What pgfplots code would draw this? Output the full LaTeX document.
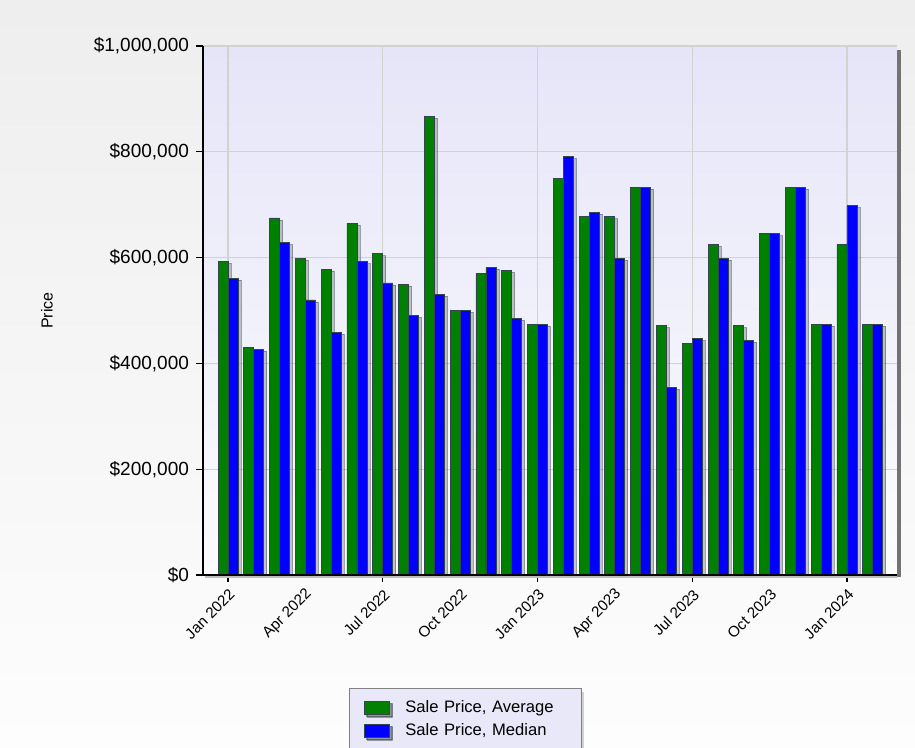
\documentclass[border=0pt]{standalone}
\usepackage{pgfplots}
\pgfplotsset{compat=1.18}
\usepackage{fontspec}
\setmainfont{Liberation Sans}
\usetikzlibrary{shadows}

\definecolor{avggreen}{RGB}{0,128,0}
\definecolor{medblue}{RGB}{0,0,255}
\definecolor{baredge}{RGB}{50,70,75}
\definecolor{plottop}{RGB}{229,229,248}
\definecolor{plotbot}{RGB}{252,252,255}
\definecolor{pagetop}{RGB}{238,238,238}
\definecolor{pagebot}{RGB}{253,253,253}
\definecolor{gridgray}{RGB}{210,210,210}
\definecolor{legfill}{RGB}{232,232,248}

% monthly sale prices, Jan 2022 = 0 ... Feb 2024 = 25
\pgfplotstableread{
idx avg    med
0   593000 561000
1   430000 427000
2   675000 628000
3   599000 520000
4   578000 459000
5   665000 592000
6   607000 552000
7   550000 491000
8   867000 531000
9   500000 500000
10  570000 582000
11  576000 485000
12  474000 474000
13  750000 791000
14  677000 686000
15  677000 599000
16  733000 733000
17  471000 355000
18  437000 447000
19  625000 599000
20  471000 444000
21  645000 645000
22  733000 733000
23  474000 474000
24  625000 698000
25  474000 474000
}\prices

\begin{document}
\begin{tikzpicture}
\shade[top color=pagetop, bottom color=pagebot] (-101.5pt,-86.5pt) rectangle (356pt,287.5pt);
\begin{axis}[
    name=main,
    scale only axis,
    width=347pt, height=264.5pt,
    anchor=south west, at={(0,0)},
    ybar=0pt, bar width=5pt,
    xmin=-0.97, xmax=25.94,
    ymin=0, ymax=1000000,
    axis background/.style={shade, top color=plottop, bottom color=plotbot},
    axis x line*=bottom, axis y line*=left,
    axis line style={black, line width=0.6pt, -},
    tick align=outside, major tick length=3.5pt,
    tick style={black, line width=0.6pt},
    xmajorgrids, ymajorgrids,
    grid style={gridgray, line width=0.6pt},
    xtick={0,6,12,18,24},
    xticklabels={Jan 2022,Jul 2022,Jan 2023,Jul 2023,Jan 2024},
    extra x ticks={3,9,15,21},
    extra x tick labels={Apr 2022,Oct 2022,Apr 2023,Oct 2023},
    extra x tick style={grid=none, tick style={draw=none}},
    xticklabel style={rotate=45, anchor=east, font=\fontsize{7.6}{9}\selectfont, inner sep=1pt, xshift=-1pt, yshift=-5pt},
    ytick={0,200000,400000,600000,800000,1000000},
    yticklabels={{\$0},{\$200,000},{\$400,000},{\$600,000},{\$800,000},{\$1,000,000}},
    scaled y ticks=false,
    yticklabel style={font=\fontsize{9.5}{11}\selectfont},
    ylabel={Price},
    ylabel style={at={(axis description cs:-0.225,0.5)}, anchor=center, font=\fontsize{8}{10}\selectfont},
    legend style={at={(axis description cs:0.2104,-0.2136)}, anchor=north west,
        fill=legfill, draw=gray, line width=0.6pt,
        font=\fontsize{8.3}{10}\selectfont,
        inner xsep=7pt, inner ysep=4pt, row sep=0pt, column sep=6pt,
        nodes={text width=79pt},
        drop shadow={shadow xshift=1.5pt, shadow yshift=-1.5pt, opacity=0.35}},
    legend cell align=left,
    legend image code/.code={\draw[#1, drop shadow={shadow xshift=1pt, shadow yshift=-1pt, opacity=0.4}] (0pt,-3.2pt) rectangle (12.5pt,3.2pt);},
]
\addplot[fill=avggreen, draw=baredge, line width=0.4pt,
    drop shadow={shadow xshift=1.5pt, shadow yshift=-1pt, opacity=0.45}]
    table[x=idx, y=avg] {\prices};
\addlegendentry{Sale Price, Average}
\addplot[fill=medblue, draw=baredge, line width=0.4pt,
    drop shadow={shadow xshift=1.5pt, shadow yshift=-1pt, opacity=0.45}]
    table[x=idx, y=med] {\prices};
\addlegendentry{Sale Price, Median}
\end{axis}
% frame shadow on the right and below the plot area
\draw[black!55, line width=2pt] ([xshift=1.2pt,yshift=-2pt]main.north east) -- ([xshift=1.2pt,yshift=-1pt]main.south east);
\draw[black!25, line width=1pt] ([xshift=1pt,yshift=-1pt]main.south west) -- ([xshift=0.2pt,yshift=-1pt]main.south east);
\draw[black, line width=0.6pt] (main.south west) -- (main.south east);
\pgfresetboundingbox
\useasboundingbox (-101.5pt,-86.5pt) rectangle (356pt,287.5pt);
\end{tikzpicture}
\end{document}
